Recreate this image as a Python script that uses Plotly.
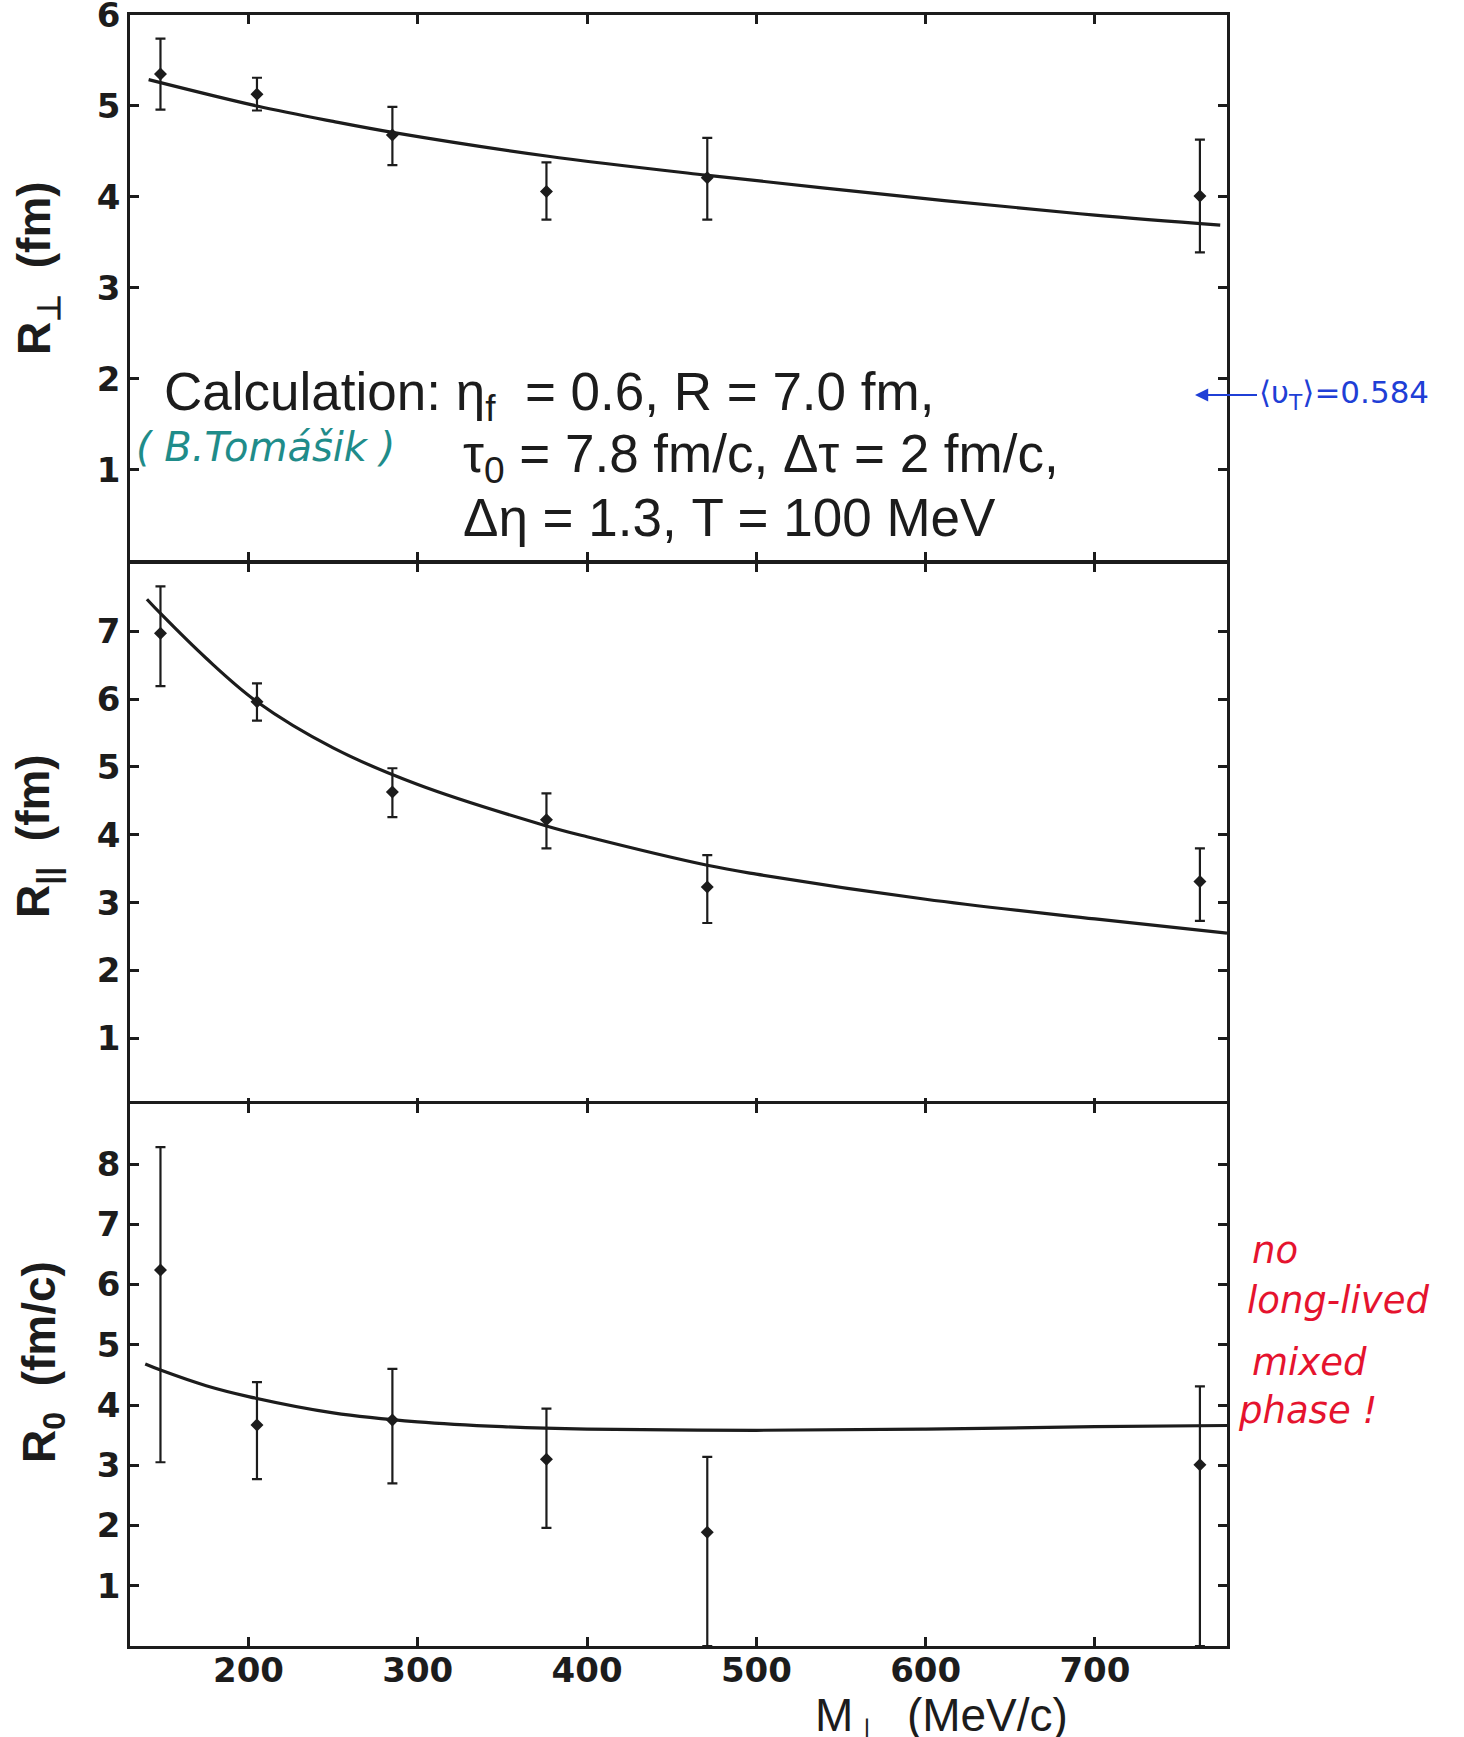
import plotly.graph_objects as go

# ---------------- data ----------------
mt = [148, 205, 285, 376, 471, 762]

r_side = [5.35, 5.13, 4.68, 4.06, 4.21, 4.01]
r_side_up = [0.39, 0.18, 0.31, 0.32, 0.44, 0.62]
r_side_dn = [0.39, 0.18, 0.33, 0.31, 0.46, 0.62]

r_long = [6.97, 5.96, 4.63, 4.22, 3.23, 3.31]
r_long_up = [0.69, 0.27, 0.35, 0.39, 0.47, 0.49]
r_long_dn = [0.78, 0.28, 0.37, 0.42, 0.53, 0.58]

r_out = [6.24, 3.67, 3.75, 3.10, 1.89, 3.01]
r_out_up = [2.04, 0.71, 0.85, 0.84, 1.25, 1.30]
r_out_dn = [3.19, 0.90, 1.05, 1.14, 1.89, 3.01]

calc_side_x = [141, 205, 250, 285, 376, 470, 611, 700, 774]
calc_side_y = [5.29, 5.00, 4.83, 4.71, 4.45, 4.24, 3.96, 3.80, 3.69]

calc_long_x = [140, 148, 175, 205, 250, 300, 376, 400, 471, 500, 600, 700, 778]
calc_long_y = [7.47, 7.26, 6.60, 5.96, 5.28, 4.74, 4.13, 3.97, 3.55, 3.42, 3.05, 2.76, 2.55]

calc_out_x = [139, 148, 175, 200, 250, 300, 350, 400, 500, 600, 700, 778]
calc_out_y = [4.68, 4.58, 4.32, 4.14, 3.87, 3.72, 3.64, 3.60, 3.58, 3.60, 3.64, 3.66]

x_ticks = [200, 300, 400, 500, 600, 700]
y1_ticks = [1, 2, 3, 4, 5, 6]
y2_ticks = [1, 2, 3, 4, 5, 6, 7]
y3_ticks = [1, 2, 3, 4, 5, 6, 7, 8]

# ---------------- figure geometry ----------------
W, H = 1464, 1737
PLOT_L, PLOT_R, PLOT_T, PLOT_B = 130, 1227, 15, 1646   # page pixels of the plot box
L, T = PLOT_L, PLOT_T
R, B = W - PLOT_R, H - PLOT_B
PW, PH = W - L - R, H - T - B
LW = 2.5                                              # axis line width


def xp(px):
    """page pixel x -> paper coordinate"""
    return (px - PLOT_L) / PW


def yp(py):
    """page pixel y -> paper coordinate"""
    return (PLOT_B - py) / PH


INK = "#1c1c1c"
fig = go.Figure()

panels = [
    (r_side, r_side_up, r_side_dn, calc_side_x, calc_side_y, "x", "y"),
    (r_long, r_long_up, r_long_dn, calc_long_x, calc_long_y, "x2", "y2"),
    (r_out, r_out_up, r_out_dn, calc_out_x, calc_out_y, "x3", "y3"),
]
for vals, up, dn, cx, cy, xa, ya in panels:
    fig.add_trace(go.Scatter(
        x=cx, y=cy, mode="lines",
        line=dict(color=INK, width=3.2, shape="spline", smoothing=1.0),
        xaxis=xa, yaxis=ya, showlegend=False, hoverinfo="skip"))
    fig.add_trace(go.Scatter(
        x=mt, y=vals, mode="markers",
        marker=dict(symbol="diamond", size=10, color=INK),
        error_y=dict(type="data", symmetric=False, array=up, arrayminus=dn,
                     color=INK, thickness=2.2, width=5),
        xaxis=xa, yaxis=ya, showlegend=False))

tickfont = dict(family="DejaVu Sans", size=34, color=INK, weight="bold")
common_axis = dict(showline=True, linecolor=INK, linewidth=LW, mirror="allticks",
                   ticks="inside", ticklen=9, tickwidth=LW, tickcolor=INK,
                   showgrid=False, zeroline=False, tickfont=tickfont,
                   ticklabeloverflow="allow", automargin=False)

xr = [130, 778]
# neighbouring panels: leave a gap of one line width so the shared border lines coincide
p1_bot, p2_top = yp(562 - LW / 2), yp(562 + LW / 2)
p2_bot, p3_top = yp(1105 - LW / 2), yp(1105 + LW / 2)

fig.update_layout(
    width=W, height=H,
    margin=dict(l=L, r=R, t=T, b=B, autoexpand=False),
    paper_bgcolor="white", plot_bgcolor="white", showlegend=False,
    xaxis=dict(range=xr, tickvals=x_ticks, showticklabels=False, anchor="y", **common_axis),
    xaxis2=dict(range=xr, tickvals=x_ticks, showticklabels=False, anchor="y2", **common_axis),
    xaxis3=dict(range=xr, tickvals=x_ticks, anchor="y3", ticklabelstandoff=-8, **common_axis),
    yaxis=dict(range=[0, 6], tickvals=y1_ticks, domain=[p1_bot, 1], anchor="x",
               ticklabelstandoff=0, **common_axis),
    yaxis2=dict(range=[0, 8], tickvals=y2_ticks, domain=[p3_top, p2_top], anchor="x2",
                ticklabelstandoff=0, **common_axis),
    yaxis3=dict(range=[0, 9], tickvals=y3_ticks, domain=[0, p2_bot], anchor="x3",
                ticklabelstandoff=0, **common_axis),
)

ann = []
title_font = dict(family="Liberation Sans", size=46, color=INK, weight="bold")
ann.append(dict(text="R<sub>⊥</sub>  (fm)", x=xp(37), y=yp(268), textangle=-90, font=title_font))
ann.append(dict(text="R<sub>||</sub>  (fm)", x=xp(36), y=yp(836), textangle=-90, font=title_font))
ann.append(dict(text="R<sub>0</sub>  (fm/c)", x=xp(42), y=yp(1362), textangle=-90, font=title_font))
ann.append(dict(text="M<sub>⊥</sub>  (MeV/c)", x=xp(813), y=yp(1718), xanchor="left",
                font=dict(family="Liberation Sans", size=46, color=INK)))

calc_font = dict(family="Liberation Sans", size=53, color=INK)
ann.append(dict(text="Calculation: η<sub>f</sub>  = 0.6, R = 7.0 fm,", x=xp(162), y=yp(396),
                xanchor="left", font=calc_font))
ann.append(dict(text="τ<sub>0</sub> = 7.8 fm/c, Δτ = 2 fm/c,", x=xp(461), y=yp(457),
                xanchor="left", font=calc_font))
ann.append(dict(text="Δη = 1.3, T = 100 MeV", x=xp(461), y=yp(517),
                xanchor="left", font=calc_font))

ann.append(dict(text="( B.Tomášik )", x=xp(134), y=yp(447), xanchor="left",
                font=dict(family="DejaVu Sans", size=40, color="#1f8c8a", style="italic")))

blue = "#1f3fd6"
ann.append(dict(text="⟨υ<sub>T</sub>⟩=0.584", x=xp(1195), y=yp(395), xanchor="left",
                showarrow=True, ax=62, ay=0, arrowhead=2, arrowsize=1.2, arrowwidth=2.2,
                arrowcolor=blue, font=dict(family="DejaVu Sans", size=31, color=blue)))

red = "#e5132e"
red_font = dict(family="DejaVu Sans", size=37, color=red, style="italic")
for txt, px, py in [("no", 1250, 1250), ("long-lived", 1245, 1300),
                    ("mixed", 1250, 1362), ("phase !", 1236, 1410)]:
    ann.append(dict(text=txt, x=xp(px), y=yp(py), xanchor="left", font=red_font))

for a in ann:
    a.setdefault("xref", "paper")
    a.setdefault("yref", "paper")
    a.setdefault("showarrow", False)
    a.setdefault("xanchor", "center")
    a.setdefault("yanchor", "middle")
fig.update_layout(annotations=ann)

fig.write_html("out.html", config={"displayModeBar": False},
               post_script="document.body.style.margin='0';")
